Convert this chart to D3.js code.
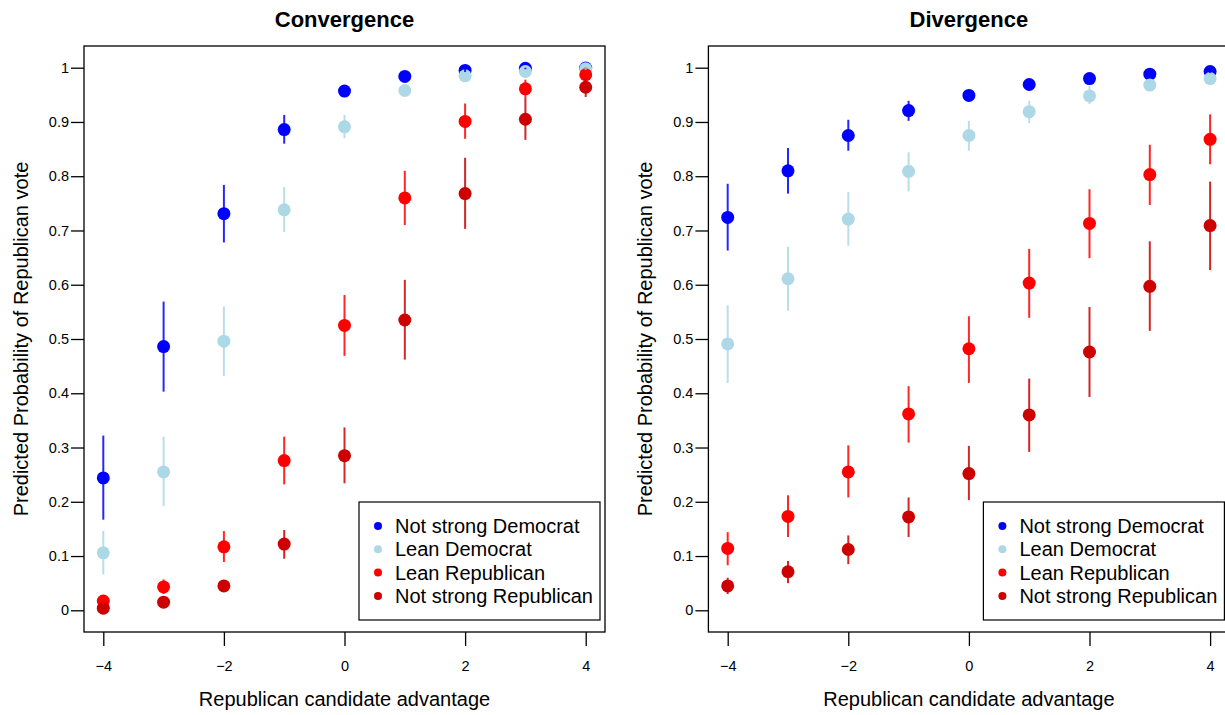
<!DOCTYPE html>
<html>
<head>
<meta charset="utf-8">
<script src="https://cdn.jsdelivr.net/npm/d3@7"></script>
<style>
  html, body { margin: 0; padding: 0; background: #fff; }
  svg { display: block; font-family: "Liberation Sans", Arial, Helvetica, sans-serif; }
</style>
</head>
<body>
<svg id="chart" width="1225" height="715"></svg>
<script>
// x values shared by both panels
const xVals = [-4, -3, -2, -1, 0, 1, 2, 3, 4];
const xTicks = [-4, -2, 0, 2, 4];
const yTicks = [0, 0.1, 0.2, 0.3, 0.4, 0.5, 0.6, 0.7, 0.8, 0.9, 1];

const seriesNames = ["Not strong Democrat", "Lean Democrat", "Lean Republican", "Not strong Republican"];
const seriesColors = ["#0000FF", "#ADD8E6", "#FF0000", "#CD0000"];
const panelTitles = ["Convergence", "Divergence"];

// Convergence panel: point estimates and interval ends
const convNSD    = [0.244, 0.486, 0.731, 0.886, 0.957, 0.984, 0.995, 0.999, 0.9995];
const convNSDLo  = [0.167, 0.403, 0.678, 0.860, 0.950, 0.979, 0.992, 0.997, 0.999];
const convNSDHi  = [0.322, 0.569, 0.784, 0.913, 0.965, 0.990, 0.998, 1.000, 1.000];
const convLD     = [0.106, 0.255, 0.496, 0.738, 0.891, 0.958, 0.985, 0.993, 0.998];
const convLDLo   = [0.066, 0.192, 0.432, 0.697, 0.870, 0.950, 0.980, 0.990, 0.996];
const convLDHi   = [0.146, 0.320, 0.560, 0.780, 0.913, 0.967, 0.990, 0.997, 0.999];
const convLR     = [0.017, 0.043, 0.117, 0.276, 0.525, 0.760, 0.901, 0.961, 0.987];
const convLRLo   = [0.010, 0.030, 0.089, 0.232, 0.469, 0.710, 0.869, 0.944, 0.980];
const convLRHi   = [0.024, 0.057, 0.146, 0.320, 0.581, 0.810, 0.934, 0.978, 0.993];
const convNSR    = [0.004, 0.015, 0.045, 0.122, 0.285, 0.535, 0.768, 0.905, 0.964];
const convNSRLo  = [0.001, 0.009, 0.035, 0.095, 0.234, 0.462, 0.703, 0.867, 0.946];
const convNSRHi  = [0.007, 0.021, 0.056, 0.148, 0.337, 0.609, 0.834, 0.944, 0.980];

// Divergence panel
const divNSD     = [0.724, 0.810, 0.875, 0.921, 0.949, 0.969, 0.980, 0.988, 0.993];
const divNSDLo   = [0.663, 0.768, 0.847, 0.902, 0.940, 0.963, 0.975, 0.984, 0.990];
const divNSDHi   = [0.786, 0.852, 0.904, 0.939, 0.957, 0.975, 0.985, 0.992, 0.996];
const divLD      = [0.491, 0.611, 0.721, 0.809, 0.875, 0.919, 0.948, 0.968, 0.980];
const divLDLo    = [0.419, 0.552, 0.672, 0.772, 0.847, 0.898, 0.933, 0.958, 0.973];
const divLDHi    = [0.562, 0.670, 0.771, 0.844, 0.902, 0.939, 0.966, 0.977, 0.987];
const divLR      = [0.114, 0.173, 0.255, 0.362, 0.482, 0.603, 0.713, 0.803, 0.868];
const divLRLo    = [0.083, 0.135, 0.208, 0.309, 0.419, 0.539, 0.649, 0.747, 0.822];
const divLRHi    = [0.144, 0.212, 0.304, 0.413, 0.542, 0.666, 0.776, 0.858, 0.914];
const divNSR     = [0.045, 0.071, 0.112, 0.172, 0.252, 0.360, 0.476, 0.597, 0.709];
const divNSRLo   = [0.030, 0.050, 0.085, 0.135, 0.203, 0.292, 0.393, 0.515, 0.627];
const divNSRHi   = [0.060, 0.091, 0.138, 0.208, 0.303, 0.427, 0.559, 0.680, 0.790];

const panels = [
  { title: panelTitles[0], left: 84, series: [
      [convNSD, convNSDLo, convNSDHi], [convLD, convLDLo, convLDHi],
      [convLR, convLRLo, convLRHi], [convNSR, convNSRLo, convNSRHi]] },
  { title: panelTitles[1], left: 708.4, series: [
      [divNSD, divNSDLo, divNSDHi], [divLD, divLDLo, divLDHi],
      [divLR, divLRLo, divLRHi], [divNSR, divNSRLo, divNSRHi]] }
];

const svg = d3.select("#chart");
const plotW = 521, plotTop = 46, plotH = 586;

panels.forEach(p => {
  const g = svg.append("g").attr("transform", `translate(${p.left},${plotTop})`);

  // R-style 4% padding on both axes
  const x = d3.scaleLinear().domain([-4.32, 4.32]).range([0, plotW]);
  const y = d3.scaleLinear().domain([-0.04, 1.04]).range([plotH, 0]);

  // points first, then error bars
  p.series.forEach((s, i) => {
    g.append("g").selectAll("circle")
      .data(xVals.map((xv, j) => ({ x: xv, v: s[0][j] })))
      .enter().append("circle")
      .attr("cx", d => x(d.x))
      .attr("cy", d => y(d.v))
      .attr("r", 6.5)
      .attr("fill", seriesColors[i]);
  });
  p.series.forEach((s, i) => {
    g.append("g").selectAll("line")
      .data(xVals.map((xv, j) => ({ x: xv, lo: s[1][j], hi: s[2][j] })))
      .enter().append("line")
      .attr("x1", d => x(d.x)).attr("x2", d => x(d.x))
      .attr("y1", d => y(d.lo)).attr("y2", d => y(d.hi))
      .attr("stroke", seriesColors[i])
      .attr("stroke-opacity", 0.85)
      .attr("stroke-width", 2);
  });

  // axes
  const xAxis = g.append("g").attr("transform", `translate(0,${plotH})`)
    .call(d3.axisBottom(x).tickValues(xTicks).tickSize(14).tickPadding(15)
      .tickFormat(d => d < 0 ? "\u2212" + Math.abs(d) : d));
  const yAxis = g.append("g")
    .call(d3.axisLeft(y).tickValues(yTicks).tickSize(13).tickPadding(2)
      .tickFormat(d => String(+d.toFixed(1))));
  [xAxis, yAxis].forEach(a => {
    a.select(".domain").remove();
    a.selectAll("line").attr("stroke", "#000").attr("stroke-width", 1.3);
    a.selectAll("text").attr("fill", "#000").style("font-size", "14.5px")
      .style("font-family", "'Liberation Sans', Arial, sans-serif");
  });

  // frame
  g.append("rect").attr("width", plotW).attr("height", plotH)
    .attr("fill", "none").attr("stroke", "#000").attr("stroke-width", 1.3);

  // titles
  g.append("text").attr("x", plotW / 2).attr("y", 26.5 - plotTop)
    .attr("text-anchor", "middle").style("font-size", "22px").style("font-weight", "bold")
    .text(p.title);
  g.append("text").attr("x", plotW / 2).attr("y", 706 - plotTop)
    .attr("text-anchor", "middle").style("font-size", "20px")
    .text("Republican candidate advantage");
  g.append("text")
    .attr("transform", `translate(${-63},${plotH / 2}) rotate(-90)`)
    .attr("text-anchor", "middle").attr("dy", "0.35em").style("font-size", "20px")
    .text("Predicted Probability of Republican vote");

  // legend
  const legW = 241, legH = 118;
  const leg = g.append("g").attr("transform", `translate(${plotW - 5 - legW},${502 - plotTop})`);
  leg.append("rect").attr("width", legW).attr("height", legH)
    .attr("fill", "#fff").attr("stroke", "#000").attr("stroke-width", 1.2);
  seriesNames.forEach((name, i) => {
    const cy = 24 + i * 23.3;
    leg.append("circle").attr("cx", 19).attr("cy", cy).attr("r", 4).attr("fill", seriesColors[i]);
    leg.append("text").attr("x", 36).attr("y", cy).attr("dy", "0.35em")
      .style("font-size", "20px").text(name);
  });
});
</script>
</body>
</html>
